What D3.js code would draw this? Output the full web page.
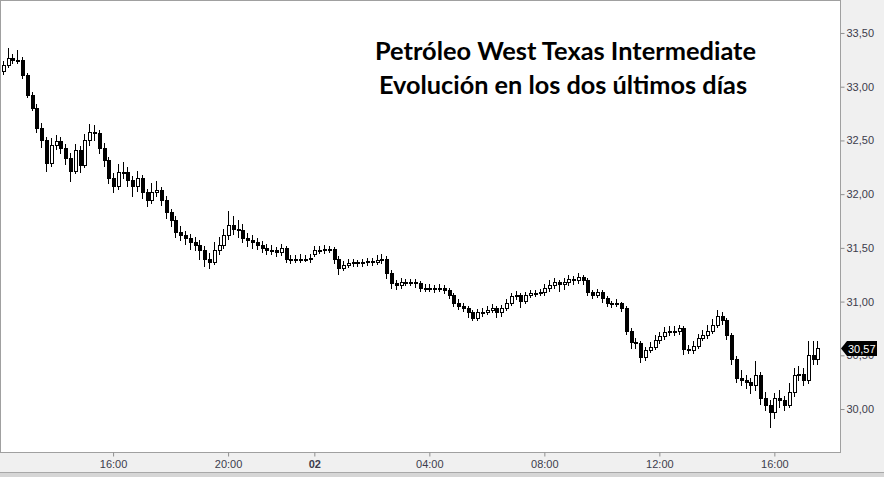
<!DOCTYPE html>
<html>
<head>
<meta charset="utf-8">
<script src="https://cdn.jsdelivr.net/npm/d3@7"></script>
<style>
  html, body { margin: 0; padding: 0; background: #f0f0f0; }
  svg { display: block; }
</style>
</head>
<body>
<script>
const width = 884;
const height = 477;

// plot frame
const plotRight = 840;
const plotBottom = 452;

// 10 minute candles, day 1 from 12:10 to 22:50, day 2 from 00:00 to 17:30
const day1Open = [33.15, 33.20, 33.27, 33.25, 33.25, 33.11, 32.92, 32.80, 32.62, 32.50,
  32.29, 32.46, 32.49, 32.43, 32.34, 32.22, 32.41, 32.27, 32.50, 32.58,
  32.57, 32.43, 32.32, 32.15, 32.08, 32.21, 32.21, 32.13, 32.08, 32.15,
  32.02, 31.95, 32.02, 32.04, 31.95, 31.83, 31.76, 31.65, 31.62, 31.59,
  31.55, 31.53, 31.48, 31.40, 31.37, 31.48, 31.53, 31.62, 31.71, 31.68,
  31.67, 31.59, 31.57, 31.55, 31.53, 31.50, 31.48, 31.48, 31.46, 31.50,
  31.40, 31.39, 31.40, 31.40, 31.40];
const day1High = [33.24, 33.36, 33.30, 33.34, 33.28, 33.13, 32.95, 32.84, 32.66, 32.53,
  32.52, 32.55, 32.53, 32.47, 32.38, 32.47, 32.45, 32.56, 32.65, 32.64,
  32.60, 32.48, 32.35, 32.20, 32.28, 32.30, 32.25, 32.17, 32.22, 32.18,
  32.05, 32.10, 32.12, 32.07, 31.98, 31.86, 31.80, 31.70, 31.66, 31.63,
  31.60, 31.57, 31.52, 31.45, 31.55, 31.60, 31.68, 31.84, 31.80, 31.76,
  31.72, 31.64, 31.62, 31.59, 31.56, 31.54, 31.53, 31.51, 31.54, 31.52,
  31.43, 31.43, 31.44, 31.43, 31.44];
const day1Low = [33.12, 33.18, 33.22, 33.22, 33.08, 32.90, 32.78, 32.58, 32.44, 32.22,
  32.26, 32.42, 32.38, 32.28, 32.12, 32.20, 32.21, 32.25, 32.46, 32.50,
  32.38, 32.26, 32.10, 32.02, 32.05, 32.15, 32.08, 31.98, 32.03, 31.96,
  31.89, 31.92, 31.98, 31.90, 31.78, 31.70, 31.60, 31.57, 31.54, 31.49,
  31.48, 31.40, 31.33, 31.31, 31.35, 31.44, 31.50, 31.58, 31.63, 31.60,
  31.55, 31.52, 31.50, 31.49, 31.46, 31.44, 31.44, 31.42, 31.43, 31.37,
  31.36, 31.37, 31.37, 31.38, 31.37];
const day1Close = [33.20, 33.27, 33.25, 33.25, 33.11, 32.92, 32.80, 32.62, 32.50, 32.29,
  32.46, 32.49, 32.43, 32.34, 32.22, 32.41, 32.27, 32.50, 32.58, 32.57,
  32.43, 32.32, 32.15, 32.08, 32.21, 32.21, 32.13, 32.08, 32.15, 32.02,
  31.95, 32.02, 32.04, 31.95, 31.83, 31.76, 31.65, 31.62, 31.59, 31.55,
  31.53, 31.48, 31.40, 31.37, 31.48, 31.53, 31.62, 31.71, 31.68, 31.67,
  31.59, 31.57, 31.55, 31.53, 31.50, 31.48, 31.48, 31.46, 31.50, 31.40,
  31.39, 31.40, 31.40, 31.40, 31.41];

const day2Open = [31.44, 31.48, 31.48, 31.49, 31.49, 31.40, 31.31, 31.34, 31.36, 31.37,
  31.36, 31.37, 31.38, 31.37, 31.39, 31.40, 31.27, 31.17, 31.15, 31.18,
  31.18, 31.18, 31.17, 31.13, 31.13, 31.13, 31.12, 31.13, 31.11, 31.06,
  30.99, 30.96, 30.94, 30.90, 30.85, 30.90, 30.90, 30.92, 30.94, 30.90,
  30.94, 30.99, 31.05, 31.06, 31.01, 31.06, 31.08, 31.08, 31.09, 31.13,
  31.15, 31.18, 31.16, 31.18, 31.21, 31.20, 31.23, 31.20, 31.09, 31.06,
  31.09, 31.03, 30.99, 30.98, 30.99, 30.94, 30.73, 30.62, 30.61, 30.48,
  30.55, 30.58, 30.64, 30.68, 30.72, 30.73, 30.73, 30.75, 30.56, 30.55,
  30.59, 30.66, 30.69, 30.73, 30.78, 30.87, 30.83, 30.69, 30.47, 30.29,
  30.27, 30.25, 30.22, 30.32, 30.10, 30.04, 29.97, 30.10, 30.08, 30.04,
  30.16, 30.32, 30.33, 30.27, 30.50, 30.47];
const day2High = [31.52, 31.52, 31.53, 31.52, 31.51, 31.42, 31.38, 31.40, 31.40, 31.39,
  31.40, 31.41, 31.41, 31.43, 31.44, 31.42, 31.29, 31.20, 31.22, 31.21,
  31.21, 31.21, 31.19, 31.16, 31.16, 31.15, 31.16, 31.15, 31.13, 31.08,
  31.02, 30.99, 30.96, 30.92, 30.93, 30.94, 30.96, 30.98, 30.96, 30.97,
  31.02, 31.08, 31.10, 31.08, 31.09, 31.11, 31.11, 31.12, 31.16, 31.20,
  31.22, 31.20, 31.22, 31.25, 31.24, 31.27, 31.25, 31.22, 31.11, 31.12,
  31.11, 31.05, 31.01, 31.02, 31.00, 30.96, 30.75, 30.66, 30.63, 30.58,
  30.62, 30.69, 30.72, 30.76, 30.77, 30.77, 30.78, 30.77, 30.60, 30.63,
  30.70, 30.74, 30.78, 30.84, 30.92, 30.90, 30.85, 30.71, 30.49, 30.36,
  30.32, 30.29, 30.45, 30.34, 30.16, 30.08, 30.15, 30.18, 30.12, 30.24,
  30.38, 30.40, 30.38, 30.63, 30.63, 30.63];
const day2Low = [31.42, 31.45, 31.45, 31.46, 31.36, 31.26, 31.29, 31.32, 31.33, 31.33,
  31.33, 31.34, 31.34, 31.35, 31.36, 31.22, 31.13, 31.12, 31.13, 31.15,
  31.15, 31.14, 31.10, 31.10, 31.10, 31.09, 31.10, 31.08, 31.03, 30.96,
  30.93, 30.91, 30.86, 30.83, 30.83, 30.87, 30.88, 30.90, 30.86, 30.87,
  30.92, 30.97, 31.02, 30.95, 30.99, 31.04, 31.05, 31.06, 31.06, 31.10,
  31.13, 31.10, 31.12, 31.15, 31.16, 31.17, 31.16, 31.06, 31.03, 31.04,
  31.00, 30.96, 30.95, 30.96, 30.91, 30.70, 30.57, 30.57, 30.44, 30.46,
  30.53, 30.56, 30.61, 30.65, 30.69, 30.69, 30.70, 30.51, 30.52, 30.52,
  30.57, 30.64, 30.66, 30.71, 30.76, 30.79, 30.65, 30.42, 30.25, 30.22,
  30.20, 30.15, 30.18, 30.05, 29.99, 29.83, 29.92, 30.02, 29.99, 30.02,
  30.12, 30.27, 30.22, 30.24, 30.42, 30.42];
const day2Close = [31.48, 31.48, 31.49, 31.49, 31.40, 31.31, 31.34, 31.36, 31.37, 31.36,
  31.37, 31.38, 31.37, 31.39, 31.40, 31.27, 31.17, 31.15, 31.18, 31.18,
  31.18, 31.17, 31.13, 31.13, 31.13, 31.12, 31.13, 31.11, 31.06, 30.99,
  30.96, 30.94, 30.90, 30.85, 30.90, 30.90, 30.92, 30.94, 30.90, 30.94,
  30.99, 31.05, 31.06, 31.01, 31.06, 31.08, 31.08, 31.09, 31.13, 31.15,
  31.18, 31.16, 31.18, 31.21, 31.20, 31.23, 31.20, 31.09, 31.06, 31.09,
  31.03, 30.99, 30.98, 30.99, 30.94, 30.73, 30.62, 30.61, 30.48, 30.55,
  30.58, 30.64, 30.68, 30.72, 30.73, 30.73, 30.75, 30.56, 30.55, 30.59,
  30.66, 30.69, 30.73, 30.78, 30.87, 30.83, 30.69, 30.47, 30.29, 30.27,
  30.25, 30.22, 30.32, 30.10, 30.04, 29.97, 30.10, 30.08, 30.04, 30.16,
  30.32, 30.33, 30.27, 30.50, 30.47, 30.57];

const priceTicks = [30, 30.5, 31, 31.5, 32, 32.5, 33, 33.5];
const timeTicks = ["16:00", "20:00", "02", "04:00", "08:00", "12:00", "16:00"];
const timeTickAt = ["16:00", "20:00", "00:00", "04:00", "08:00", "12:00", "16:00"];
const timeTickDay = [0, 0, 1, 1, 1, 1, 1];
const lastPrice = 30.57;
const titleLines = ["Petróleo West Texas Intermediate", "Evolución en los dos últimos días"];

// trading minutes: the hour 23:00-00:00 is closed and taken out of the axis
function tradeMin(day, hhmm) {
  const p = hhmm.split(":");
  const m = +p[0] * 60 + +p[1];
  return day * 1440 + m - (day > 0 ? 60 : 0);
}

const candles = [];
day1Close.forEach(function (c, i) {
  candles.push({ t: 730 + 10 * i, o: day1Open[i], h: day1High[i], l: day1Low[i], c: c });
});
day2Close.forEach(function (c, i) {
  candles.push({ t: 1380 + 10 * i, o: day2Open[i], h: day2High[i], l: day2Low[i], c: c });
});

const x = d3.scaleLinear()
  .domain([tradeMin(0, "12:04"), tradeMin(1, "18:17")])
  .range([0, plotRight]);

const y = d3.scaleLinear()
  .domain([29.60, 33.807])
  .range([plotBottom, 0]);

const esLocale = d3.formatLocale({ decimal: ",", thousands: ".", grouping: [3], currency: ["", " €"] });
const fmt = esLocale.format(".2f");

const svg = d3.select("body")
  .append("svg")
  .attr("width", width)
  .attr("height", height);

// backgrounds
svg.append("rect")
  .attr("width", width).attr("height", height)
  .attr("fill", "#f0f0f0");
svg.append("rect")
  .attr("x", 0).attr("y", 0)
  .attr("width", plotRight).attr("height", plotBottom)
  .attr("fill", "#ffffff");
svg.append("rect")
  .attr("x", 0).attr("y", 472)
  .attr("width", width).attr("height", 5)
  .attr("fill", "#d6d6d6");
svg.append("line")
  .attr("x1", 0).attr("x2", width)
  .attr("y1", 472.5).attr("y2", 472.5)
  .attr("stroke", "#a8a8a8");

// candles
const plot = svg.append("g");

const candle = plot.selectAll("g.candle")
  .data(candles)
  .enter()
  .append("g")
  .attr("class", "candle");

candle.append("line")
  .attr("x1", function (d) { return Math.round(x(d.t)) + 0.5; })
  .attr("x2", function (d) { return Math.round(x(d.t)) + 0.5; })
  .attr("y1", function (d) { return Math.round(y(d.h)); })
  .attr("y2", function (d) { return Math.round(y(d.l)) + 1; })
  .attr("stroke", "#000")
  .attr("stroke-width", 1);

candle.append("rect")
  .attr("x", function (d) { return Math.round(x(d.t)) - 0.5; })
  .attr("y", function (d) { return Math.round(y(Math.max(d.o, d.c))) + 0.5; })
  .attr("width", 3)
  .attr("height", function (d) {
    return Math.max(1, Math.round(y(Math.min(d.o, d.c))) - Math.round(y(Math.max(d.o, d.c))));
  })
  .attr("fill", function (d) { return d.c > d.o ? "#ffffff" : "#000000"; })
  .attr("stroke", "#000")
  .attr("stroke-width", 1);

// frame
svg.append("rect")
  .attr("x", 0.5).attr("y", 0.5)
  .attr("width", plotRight).attr("height", plotBottom)
  .attr("fill", "none")
  .attr("stroke", "#a0a0a0");

// right price axis
const yAxis = svg.append("g")
  .attr("transform", "translate(" + (plotRight + 0.5) + ",0)")
  .call(d3.axisRight(y).tickValues(priceTicks).tickFormat(fmt).tickSize(4).tickPadding(2));
yAxis.select(".domain").remove();
yAxis.selectAll(".tick line").attr("stroke", "#909090");
yAxis.selectAll(".tick text")
  .attr("fill", "#3c3c4c")
  .attr("font-family", "'Liberation Sans', Arial, sans-serif")
  .attr("font-size", "11px");

// bottom time axis
const tickPos = timeTickAt.map(function (t, i) { return tradeMin(timeTickDay[i], t); });
const xAxis = svg.append("g")
  .attr("transform", "translate(0," + (plotBottom + 0.5) + ")")
  .call(d3.axisBottom(x).tickValues(tickPos)
    .tickFormat(function (d, i) { return timeTicks[i]; })
    .tickSize(4).tickPadding(4));
xAxis.select(".domain").remove();
xAxis.selectAll(".tick line").attr("stroke", "#909090");
xAxis.selectAll(".tick text")
  .attr("fill", "#3c3c4c")
  .attr("font-family", "'Liberation Sans', Arial, sans-serif")
  .attr("font-size", "11px")
  .attr("font-weight", function (d, i) { return timeTicks[i] === "02" ? "bold" : "normal"; });

// last price tag, drawn over the 30,50 label as in the original
const ty = Math.round(y(lastPrice)) + 0.5;
svg.append("path")
  .attr("d", "M" + (plotRight + 1) + "," + ty +
    " L" + (plotRight + 7) + "," + (ty - 7.5) +
    " L" + (plotRight + 37) + "," + (ty - 7.5) +
    " L" + (plotRight + 37) + "," + (ty + 7.5) +
    " L" + (plotRight + 7) + "," + (ty + 7.5) + " Z")
  .attr("fill", "#000");
svg.append("text")
  .attr("x", plotRight + 8)
  .attr("y", ty + 4)
  .attr("fill", "#fff")
  .attr("font-family", "'Liberation Sans', Arial, sans-serif")
  .attr("font-size", "11px")
  .text(fmt(lastPrice));

// title
const titleWidths = [381, 368];
svg.selectAll("text.title")
  .data(titleLines)
  .enter()
  .append("text")
  .attr("class", "title")
  .attr("x", function (d, i) { return i === 0 ? 565.5 : 563; })
  .attr("y", function (d, i) { return i === 0 ? 60 : 94; })
  .attr("text-anchor", "middle")
  .attr("font-family", "Lato, 'Open Sans', sans-serif")
  .attr("font-weight", "bold")
  .attr("font-size", "24px")
  .attr("fill", "#000")
  .attr("textLength", function (d, i) { return titleWidths[i]; })
  .attr("lengthAdjust", "spacingAndGlyphs")
  .text(function (d) { return d; });
</script>
</body>
</html>
